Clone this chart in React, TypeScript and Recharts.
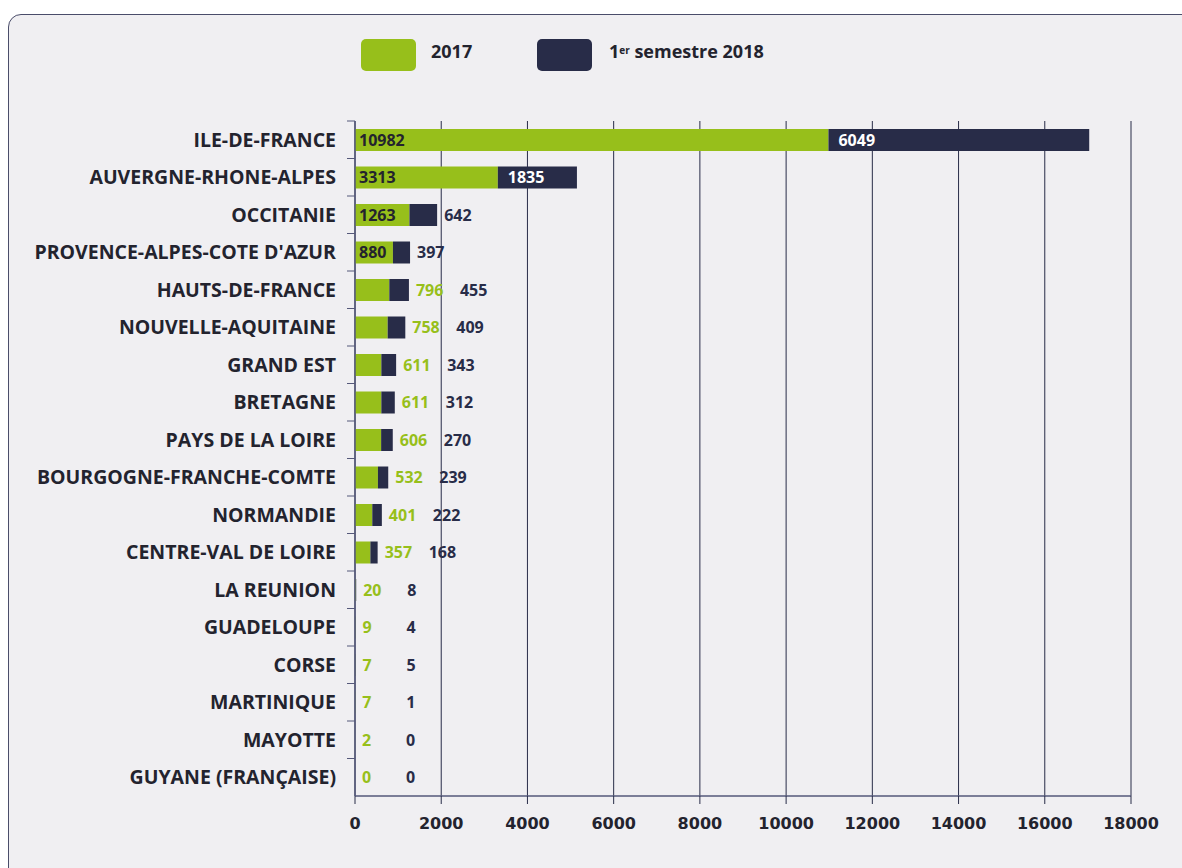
import React from "react";
import { BarChart, Bar, XAxis, YAxis, CartesianGrid, LabelList } from "recharts";

const regions = [
  "ILE-DE-FRANCE",
  "AUVERGNE-RHONE-ALPES",
  "OCCITANIE",
  "PROVENCE-ALPES-COTE D'AZUR",
  "HAUTS-DE-FRANCE",
  "NOUVELLE-AQUITAINE",
  "GRAND EST",
  "BRETAGNE",
  "PAYS DE LA LOIRE",
  "BOURGOGNE-FRANCHE-COMTE",
  "NORMANDIE",
  "CENTRE-VAL DE LOIRE",
  "LA REUNION",
  "GUADELOUPE",
  "CORSE",
  "MARTINIQUE",
  "MAYOTTE",
  "GUYANE (FRANÇAISE)",
];
const values2017 = [10982, 3313, 1263, 880, 796, 758, 611, 611, 606, 532, 401, 357, 20, 9, 7, 7, 2, 0];
const valuesS1_2018 = [6049, 1835, 642, 397, 455, 409, 343, 312, 270, 239, 222, 168, 8, 4, 5, 1, 0, 0];
const xTicks = [0, 2000, 4000, 6000, 8000, 10000, 12000, 14000, 16000, 18000];

const GREEN = "#97bf1b";
const NAVY = "#282c48";
const TEXT = "#23232e";
const FONT = "'Open Sans', Lato, sans-serif";
const PLOT_LEFT = 355;
const BAND = 37.5;

const data = regions.map((region, i) => ({
  region,
  y2017: values2017[i],
  y2018: valuesS1_2018[i],
}));

const box = (props: any) => {
  const vb = props.viewBox && props.viewBox.height !== undefined ? props.viewBox : props;
  return { x: vb.x as number, y: vb.y as number, width: vb.width as number, height: vb.height as number };
};

const labelStyle = { fontFamily: FONT, fontSize: 16, fontWeight: 700 };

// zero values still get a hairline rect so their labels are drawn
const keepZero = (series: number[]) => (_v: any, index: number) => (series[index] === 0 ? 0.001 : 0);

const GreenLabel = (props: any) => {
  const { x, y, width, height } = box(props);
  if (width < 36) return null;
  return (
    <text x={x + 4} y={y + height / 2} dy={5.5} fill={TEXT} style={labelStyle}>
      {props.value}
    </text>
  );
};

const NavyLabel = (props: any) => {
  const { x, y, width, height } = box(props);
  const cy = y + height / 2;
  const greenWidth = x - PLOT_LEFT;
  const green = values2017[props.index];
  if (width >= 45) {
    return (
      <text x={x + 10} y={cy} dy={5.5} fill="#ffffff" style={labelStyle}>
        {props.value}
      </text>
    );
  }
  let lx = x + width + 7;
  const parts: React.ReactNode[] = [];
  if (greenWidth < 36) {
    parts.push(
      <text key="g" x={lx} y={cy} dy={5.5} fill={GREEN} style={labelStyle}>
        {green}
      </text>
    );
    lx += 44;
  }
  parts.push(
    <text key="n" x={lx} y={cy} dy={5.5} fill={NAVY} style={labelStyle}>
      {props.value}
    </text>
  );
  return <g>{parts}</g>;
};

const YTick = (props: any) => {
  const { y, payload } = props;
  return (
    <g>
      <line x1={PLOT_LEFT - 8} x2={PLOT_LEFT} y1={y - BAND / 2} y2={y - BAND / 2} stroke="#55587a" />
      <text
        x={PLOT_LEFT - 19}
        y={y}
        dy={7}
        textAnchor="end"
        fill={TEXT}
        style={{ fontFamily: FONT, fontSize: 19.5, fontWeight: 700 }}
      >
        {payload.value}
      </text>
    </g>
  );
};

export default function App() {
  return (
    <div style={{ position: "fixed", inset: 0, overflow: "hidden", background: "#ffffff" }}>
      <div
        style={{
          position: "absolute",
          left: 8,
          top: 14,
          width: 1220,
          height: 900,
          background: "#f0eff2",
          border: "1.5px solid #4a4d6a",
          borderRadius: 13,
        }}
      />
      <div style={{ position: "absolute", left: 361, top: 39, width: 55, height: 32, background: GREEN, borderRadius: 5 }} />
      <div
        style={{
          position: "absolute",
          left: 431,
          top: 40,
          fontFamily: FONT,
          fontSize: 18,
          fontWeight: 700,
          lineHeight: "22px",
          color: TEXT,
        }}
      >
        2017
      </div>
      <div style={{ position: "absolute", left: 537, top: 39, width: 55, height: 32, background: NAVY, borderRadius: 5 }} />
      <div
        style={{
          position: "absolute",
          left: 609,
          top: 40,
          fontFamily: FONT,
          fontSize: 18,
          fontWeight: 700,
          lineHeight: "22px",
          color: TEXT,
          whiteSpace: "nowrap",
        }}
      >
        1<sup style={{ fontSize: 10, verticalAlign: "top", position: "relative", top: -1 }}>er</sup> semestre 2018
      </div>
      <div style={{ position: "absolute", left: 0, top: 0 }}>
        <BarChart
          width={1182}
          height={868}
          data={data}
          layout="vertical"
          margin={{ top: 121, right: 51, bottom: 42, left: 0 }}
        >
          <CartesianGrid horizontal={false} stroke={NAVY} strokeWidth={1} />
          <XAxis
            type="number"
            domain={[0, 18000]}
            ticks={xTicks}
            interval={0}
            height={30}
            axisLine={{ stroke: "#55587a", strokeWidth: 1.5 }}
            tickLine={{ stroke: NAVY }}
            tickSize={8}
            tickMargin={14}
            tick={{ fill: TEXT, fontSize: 16, fontWeight: 700, fontFamily: "'DejaVu Sans', sans-serif" }}
          />
          <YAxis
            type="category"
            dataKey="region"
            width={355}
            interval={0}
            axisLine={{ stroke: "#55587a", strokeWidth: 1.5 }}
            tickLine={false}
            tick={<YTick />}
          />
          <Bar
            dataKey="y2017"
            stackId="a"
            fill={GREEN}
            barSize={22}
            minPointSize={keepZero(values2017)}
            isAnimationActive={false}
          >
            <LabelList dataKey="y2017" content={<GreenLabel />} />
          </Bar>
          <Bar
            dataKey="y2018"
            stackId="a"
            fill={NAVY}
            barSize={22}
            minPointSize={keepZero(valuesS1_2018)}
            isAnimationActive={false}
          >
            <LabelList dataKey="y2018" content={<NavyLabel />} />
          </Bar>
        </BarChart>
      </div>
    </div>
  );
}
